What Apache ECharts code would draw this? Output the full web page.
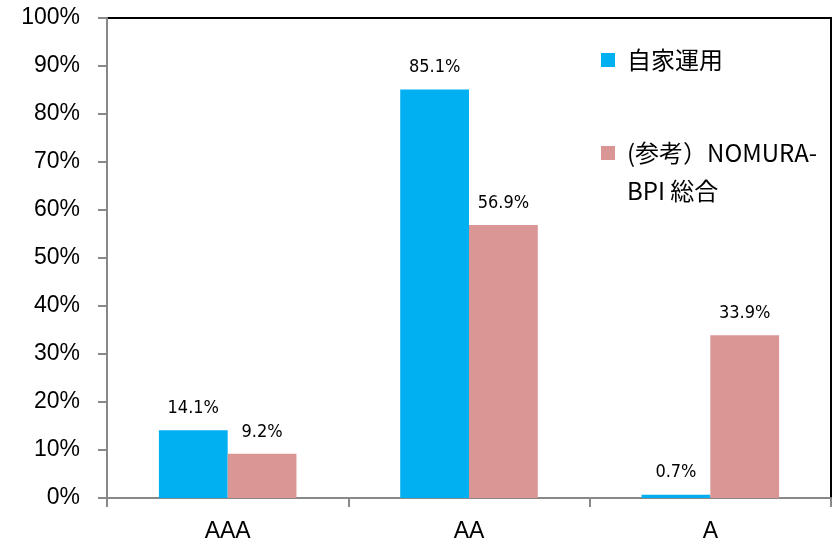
<!DOCTYPE html>
<html>
<head>
<meta charset="utf-8">
<script src="https://cdn.jsdelivr.net/npm/echarts@6/dist/echarts.min.js"></script>
<style>
html,body{margin:0;padding:0;background:#fff;}
#c{width:839px;height:545px;}
</style>
</head>
<body>
<div id="c"></div>
<script>
var categories = ['AAA', 'AA', 'A'];
var seriesNames = ['自家運用', '(参考）NOMURA-BPI 総合'];
var ownValues = [14.1, 85.1, 0.7];
var bpiValues = [9.2, 56.9, 33.9];
var yTicks = [0, 10, 20, 30, 40, 50, 60, 70, 80, 90, 100];

var chart = echarts.init(document.getElementById('c'), null, {renderer: 'canvas'});
var labelStyle = {
  show: true,
  position: 'top',
  distance: 13,
  fontFamily: '"Liberation Sans Narrow", "DejaVu Sans Condensed", sans-serif',
  fontSize: 18,
  color: '#000',
  formatter: function (p) { return p.value.toFixed(1) + '%'; }
};
chart.setOption({
  animation: false,
  backgroundColor: '#fff',
  grid: {
    left: 107, right: 8, top: 18, bottom: 47,
    show: true, borderColor: '#000', borderWidth: 2, backgroundColor: 'transparent'
  },
  legend: [
    {
      data: [seriesNames[0]],
      left: 601, top: 45, padding: 0,
      itemWidth: 14, itemHeight: 14, icon: 'rect',
      selectedMode: false,
      textStyle: {fontFamily: '"Noto Sans CJK JP", sans-serif', fontSize: 24, color: '#000', lineHeight: 30, padding: [0, 0, 0, 7]}
    },
    {
      data: [seriesNames[1]],
      left: 601, top: 96, padding: 0,
      itemWidth: 14, itemHeight: 14, icon: 'rect',
      selectedMode: false,
      formatter: function (n) { return '\n(参考）NOMURA-\nBPI 総合'; },
      textStyle: {fontFamily: '"Noto Sans CJK JP", sans-serif', fontSize: 24, color: '#000', lineHeight: 38, padding: [0, 0, 0, 7]}
    }
  ],
  xAxis: {
    type: 'category',
    data: categories,
    axisLine: {lineStyle: {color: '#888', width: 2}},
    axisTick: {show: true, alignWithLabel: false, length: 9, lineStyle: {color: '#888', width: 2}},
    axisLabel: {fontFamily: '"Liberation Sans", Arial, sans-serif', fontSize: 23, color: '#000', margin: 22},
    splitLine: {show: false}
  },
  yAxis: {
    type: 'value',
    min: yTicks[0], max: yTicks[yTicks.length - 1], interval: 10,
    axisLine: {show: true, lineStyle: {color: '#888', width: 2}},
    axisTick: {show: true, length: 9, lineStyle: {color: '#888', width: 2}},
    axisLabel: {fontFamily: '"Liberation Sans", Arial, sans-serif', fontSize: 23, color: '#000', margin: 27, formatter: '{value}%'},
    splitLine: {show: false}
  },
  series: [
    {
      name: seriesNames[0], type: 'bar', data: ownValues,
      barGap: '0%', barCategoryGap: '43%',
      itemStyle: {color: '#00B0F0'},
      label: labelStyle
    },
    {
      name: seriesNames[1], type: 'bar', data: bpiValues,
      barGap: '0%', barCategoryGap: '43%',
      itemStyle: {color: '#DA9694'},
      label: labelStyle
    }
  ]
});
</script>
</body>
</html>
